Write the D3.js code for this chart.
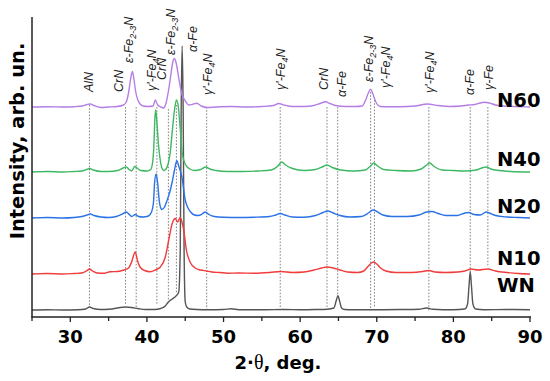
<!DOCTYPE html>
<html><head><meta charset="utf-8">
<script src="https://cdn.jsdelivr.net/npm/d3@7/dist/d3.min.js"></script>
<style>body{margin:0;background:#fff}svg{display:block}</style>
</head><body>
<svg id="c" width="550" height="381"></svg>
<script>
// ---------- DATA ----------
const seriesNames = ["WN", "N10", "N20", "N40", "N60"];
const seriesOffsets = [7, 43, 99, 145, 210];
const nameLevels = [25, 52, 104, 151, 210];
const xTicksMajor = [30, 40, 50, 60, 70, 80, 90];
const xTicksMinor = [25, 35, 45, 55, 65, 75, 85];

const wnData = [[25,0],[27,0.3],[29,0],[31,0.3],[32,1],[32.5,3],[33,1.5],[34,0.5],[35,0.8],[35.8,1.5],[36.5,2.5],[37.2,3],[38,2.5],[38.8,1.5],[39.8,0.5],[41,0.5],[41.8,1.5],[42.4,4],[42.8,8],[43.3,11],[43.8,14],[44.15,18],[44.35,60],[44.47,200],[44.6,264],[44.73,200],[44.85,60],[45.0,8],[45.2,3],[45.6,1],[46.5,0.5],[48,0.3],[50,0.5],[51,1.2],[52,0.3],[55,0.3],[58,0.5],[60,0.3],[62,0.5],[63.5,0.8],[64.4,2],[64.7,9],[64.93,14.3],[65.15,9],[65.4,2],[65.8,0.5],[67,0.3],[70,0.3],[73,0.5],[75.5,0.8],[76.5,2],[77.3,0.8],[80,0.3],[81.5,1],[81.85,6],[82.05,25],[82.2,38.3],[82.35,25],[82.55,6],[82.9,1],[84,0.3],[87,0.5],[90,0.3]];

const n10Data = [[25,0],[27,0.5],[29,0],[30.5,0.5],[31.5,1],[32.2,3.5],[32.5,5],[32.9,3],[33.5,1],[34.5,0.8],[35.2,2.3],[36.2,2.5],[37.0,4],[37.6,6],[38.0,12],[38.47,22],[38.75,14],[39.1,7],[39.7,3.5],[40.4,2.3],[41.1,4],[41.75,7],[42.4,17],[42.8,32],[43.3,50.5],[43.7,55.5],[44.0,52],[44.36,56.5],[44.6,51],[44.8,44],[45.15,24],[45.7,11],[46.3,6],[47,4],[47.8,3],[48.5,2],[49.5,1.5],[50.5,0.8],[52,1],[54,0.8],[56,1.5],[57.5,2.5],[59,1.5],[60.5,2],[61.8,4],[62.8,6],[63.5,7],[64.3,6],[65.2,4],[66.2,2],[67.5,1.5],[68.3,3],[68.8,7],[69.3,11],[69.6,12],[70,10],[70.5,6],[71.2,3],[72.5,1.5],[74.5,1.5],[76,2.5],[76.8,3.5],[77.6,2],[79,1.5],[80.5,2],[81.5,3],[82.3,5],[83.2,4],[84.5,5],[85.5,3],[87,1.5],[88.5,0.5],[90,0]];

const n20Data = [[25,0],[27,0.5],[29,0],[30.5,0.5],[31.5,1.5],[32.2,3],[32.6,4],[33.1,2.5],[34,1],[35,0.5],[36,1.5],[36.8,4],[37.3,6],[37.7,3.5],[38.0,1.5],[38.5,3.5],[38.9,1.5],[39.5,1],[40.2,2],[40.6,6],[40.85,15],[41.0,35],[41.2,44],[41.4,35],[41.6,18],[41.8,10],[41.95,8.5],[42.3,11],[42.6,17],[42.95,25],[43.27,35],[43.6,48],[43.9,57.3],[44.15,52],[44.57,41],[45.0,18],[45.3,11],[45.7,6],[46.2,3],[46.7,2.5],[47.2,4],[47.6,6],[48.1,3.5],[48.8,1.5],[50,0.8],[52,0.5],[54,0.8],[56,1.5],[56.8,3],[57.4,4.5],[58,3],[59,1],[60.5,0.8],[62,2.5],[63,5.5],[63.6,7],[64.3,5],[65.2,2.5],[66.5,1],[68,1.5],[68.9,5],[69.5,8],[70,6.5],[70.8,3],[72,1.5],[74,1.5],[75.5,3],[76.5,6],[77.2,6.5],[78,4.5],[79,2.5],[80.5,2.5],[81.5,5],[82,5.5],[82.7,3.5],[83.5,3],[84.3,6],[84.7,5],[85.5,2.5],[87,1],[88.5,0.5],[90,0]];

const n40Data = [[25,0],[27,0.5],[29,0],[30.5,0.5],[31.5,1],[32.1,2.5],[32.5,3.5],[33,2],[34,0.5],[35,0.5],[36.2,1.5],[36.9,4],[37.3,5],[37.7,2.5],[38.0,1],[38.4,5.5],[38.7,4],[39.2,1.5],[40,1],[40.5,2.5],[40.75,10],[40.9,25],[41.05,55],[41.15,62],[41.3,50],[41.5,28],[41.7,14],[41.95,4],[42.2,1.5],[42.5,3],[42.8,9],[43.05,20],[43.3,40],[43.6,62],[43.85,72],[44.1,65],[44.36,42],[44.6,19],[45.0,8],[45.5,3.5],[46.2,1.5],[47,2.5],[47.7,5],[48.2,3],[49,1.5],[50.5,0.5],[52.5,0.5],[54.5,1],[56.2,2],[57.1,6],[57.6,10],[58.1,7],[59,3.5],[60.5,1.5],[62,2.5],[63,5.5],[63.5,7],[64.2,4.5],[65.3,2],[67,1],[68.5,2],[69.2,6],[69.6,9],[70.1,6],[70.9,2.5],[72.5,1.5],[74.5,1],[75.8,3],[76.5,7],[76.9,9],[77.5,5.5],[78.5,2],[80,1.5],[81.5,1],[83,2],[83.9,4.5],[84.3,5],[84.9,3],[86,1.5],[87.5,0.5],[90,0]];

const n60Data = [[25,0],[27,0.3],[29,0],[30.5,0.3],[31.6,1],[32.2,2.5],[32.6,3],[33.1,1.5],[34,-0.5],[35,0],[36.1,0.5],[36.95,2],[37.3,5],[37.6,14],[37.85,27],[38.1,35.5],[38.3,28],[38.5,17],[38.9,5.5],[39.5,1],[40.2,0.5],[40.8,1],[41.1,7],[41.4,2],[41.8,0],[42.15,-1],[42.5,4],[42.83,17],[43.14,33],[43.35,44],[43.57,48.5],[43.75,46],[43.92,40],[44.15,29],[44.36,20],[44.6,12],[44.79,9],[45.1,5],[45.45,2],[45.9,2.5],[46.5,3.7],[47.1,1],[47.85,-0.5],[49,0],[51,0.5],[53,0],[55,0.5],[56.5,1.5],[57.2,3.5],[57.9,2],[59,0.5],[60.5,0.5],[61.8,1.5],[62.6,3.5],[63.3,5.3],[63.9,3.5],[64.6,1.5],[66,0.5],[67.3,0.5],[68.1,1],[68.55,7],[68.9,14],[69.2,17.7],[69.5,13],[69.86,5.3],[70.5,0.5],[71.5,0.3],[73,0.3],[75,1],[76.6,3],[78,1.5],[79.5,0.5],[81,1],[82,2],[82.8,2.5],[83.5,4],[84,4.7],[84.7,4],[85.5,2],[86.5,1],[88,0.5],[90,0]];

const seriesData = [wnData, n10Data, n20Data, n40Data, n60Data];

// reference (dotted) lines: 2theta, top and bottom levels
const refTheta  = [32.5, 37.2, 38.6, 41.3, 42.8, 43.85, 47.8, 57.4, 63.5, 64.9, 69.2, 69.7, 76.8, 82.2, 84.5];
const refTop    = [212, 210, 210, 210, 208, 212, 210, 210, 210, 210, 225, 217, 210, 210, 210];
const refBottom = [10, 12, 9, 13, 16, 24, 7, 10, 10, 21, 9, 9, 5, 45, 50];

// phase labels
const phaseLabels = ["AlN","CrN","ε-Fe_{2-3}N","γ'-Fe_{4}N","CrN","ε-Fe_{2-3}N","α-Fe","γ'-Fe_{4}N","γ'-Fe_{4}N","CrN","α-Fe","ε-Fe_{2-3}N","γ'-Fe_{4}N","γ'-Fe_{4}N","α-Fe","γ-Fe"];
const phaseTheta  = [32.45, 36.38, 37.69, 40.69, 42.0, 43.18, 46.06, 48.02, 57.44, 63.06, 65.41, 68.94, 71.17, 76.92, 82.15, 84.64];
const phaseLevel  = [225, 225, 254, 226, 237, 262, 265, 222, 227, 227, 220, 235, 229, 224, 222, 227];

// ---------- STYLE ----------
const colors = ["#555555", "#f03c3c", "#2a72e6", "#3cb862", "#b47ee6"];
const svg = d3.select("#c");
const x = d3.scaleLinear().domain([25, 90]).range([32, 530]);
const y = d3.scaleLinear().domain([0, 300]).range([317, 17]);
const boldFont = "'DejaVu Sans', sans-serif";

// dotted ref lines
svg.append("g").selectAll("line").data(refTheta).join("line")
  .attr("x1", d => x(d)).attr("x2", d => x(d))
  .attr("y1", (d,i) => y(refTop[i])).attr("y2", (d,i) => y(refBottom[i]))
  .attr("stroke", "#666").attr("stroke-width", 0.8).attr("stroke-dasharray", "1.6,1.6");

// series
const line = d3.line().x(d => x(d[0])).y(d => y(d[1])).curve(d3.curveMonotoneX);
seriesData.forEach((data, i) => {
  const pts = data.map(p => [p[0], p[1] + seriesOffsets[i]]);
  svg.append("path").datum(pts).attr("d", line)
    .attr("fill", "none").attr("stroke", colors[i]).attr("stroke-width", 1.4)
    .attr("stroke-linejoin", "round");
});

// axes
svg.append("line").attr("x1", x(25)).attr("x2", x(25)).attr("y1", y(300)).attr("y2", y(0))
  .attr("stroke", "#222").attr("stroke-width", 1.5);
svg.append("line").attr("x1", x(25) - 0.75).attr("x2", x(90) + 1).attr("y1", y(0)).attr("y2", y(0))
  .attr("stroke", "#222").attr("stroke-width", 1.5);
svg.append("g").selectAll("line").data(xTicksMajor.concat(xTicksMinor)).join("line")
  .attr("x1", d => x(d)).attr("x2", d => x(d))
  .attr("y1", y(0)).attr("y2", d => y(0) + (xTicksMajor.includes(d) ? 5 : 4))
  .attr("stroke", "#222").attr("stroke-width", 1.3);
svg.append("g").selectAll("text").data(xTicksMajor).join("text")
  .attr("x", d => x(d)).attr("y", 343)
  .attr("text-anchor", "middle")
  .attr("font-family", boldFont).attr("font-weight", "bold").attr("font-size", 18)
  .text(d => d);

// axis titles
const xt = svg.append("text").attr("x", 278).attr("y", 369).attr("text-anchor", "middle")
  .attr("font-family", boldFont).attr("font-weight", "bold").attr("font-size", 18);
xt.append("tspan").text("2·");
xt.append("tspan").attr("font-family", "'Liberation Serif', serif").attr("font-weight", "normal").attr("font-size", 20).text("θ");
xt.append("tspan").text(", deg.");

svg.append("text").attr("transform", "translate(24,141) rotate(-90)")
  .attr("text-anchor", "middle")
  .attr("font-family", boldFont).attr("font-weight", "bold").attr("font-size", 19.5)
  .text("Intensity, arb. un.");

// series names
seriesNames.forEach((n, i) => {
  svg.append("text").attr("x", 497).attr("y", y(nameLevels[i]))
    .attr("font-family", boldFont).attr("font-weight", "bold").attr("font-size", 19.5)
    .text(n);
});

// phase labels
phaseLabels.forEach((lab, i) => {
  const t = svg.append("text")
    .attr("transform", `translate(${x(phaseTheta[i]) + 4},${y(phaseLevel[i])}) rotate(-90)`)
    .attr("font-family", "'Liberation Sans', Arial, sans-serif").attr("font-style", "italic")
    .attr("font-size", 12.5).attr("fill", "#222");
  const parts = lab.split(/_\{|\}/);
  parts.forEach((p, k) => {
    if (!p) return;
    if (k % 2 === 1) {
      t.append("tspan").attr("font-size", 9).attr("dy", 3).text(p);
    } else {
      const ts = t.append("tspan").text(p);
      if (k > 0) ts.attr("dy", -3);
    }
  });
});
</script>
</body></html>
